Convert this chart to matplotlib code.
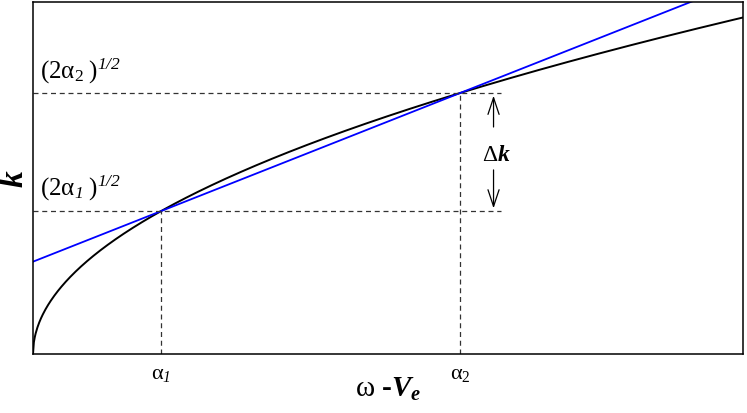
import numpy as np
import matplotlib.pyplot as plt

plt.rcParams['mathtext.fontset'] = 'custom'
plt.rcParams['mathtext.rm'] = 'Liberation Serif'
plt.rcParams['mathtext.it'] = 'Liberation Serif:italic'
plt.rcParams['mathtext.cal'] = 'Liberation Serif:italic'
plt.rcParams['mathtext.bf'] = 'Liberation Serif:bold'
plt.rcParams['mathtext.bfit'] = 'Liberation Serif:italic:bold'
plt.rcParams['font.family'] = 'Liberation Serif'

# two roots where the straight line cuts the dispersion curve
alphas = [1.0, 3.34]
tick_labels = [r'$\mathrm{\alpha}_{\mathcal{1}}$', r'$\mathrm{\alpha}_{2}$']
k_labels = [r'$(2\mathrm{\alpha}_{\mathcal{1}}\;)^{\mathcal{1/2}}$',
            r'$(2\mathrm{\alpha}_{2}\;)^{\mathcal{1/2}}$']
x_max = 5.55
y_max = 3.485

# dispersion curve k = (2 w)^(1/2) as labelled in the diagram
w = np.linspace(0, x_max, 800)
k_curve = np.sqrt(2 * w)
k_pts = [np.sqrt(2 * a) for a in alphas]
slope = (k_pts[1] - k_pts[0]) / (alphas[1] - alphas[0])
k_line = k_pts[0] + slope * (w - alphas[0])

fig = plt.figure(figsize=(7.47, 4.14), dpi=100)
ax = fig.add_axes([33 / 747, 59 / 414, 710 / 747, 352 / 414])

ax.plot(w, k_curve, color='black', lw=1.4)
ax.plot(w, k_line, color='#0000ff', lw=1.3)

dash = dict(color='#333333', lw=0.9, ls=(0, (4, 3)))
x_end = 3.66
for a, kk in zip(alphas, k_pts):
    ax.plot([0, x_end], [kk, kk], **dash)
    ax.plot([a, a], [0, kk], **dash)

# delta k arrow
x_arr = 3.60
head = '->,head_width=0.4,head_length=1.2'
ax.annotate('', xy=(x_arr, k_pts[1]), xytext=(x_arr, 2.22),
            arrowprops=dict(arrowstyle=head, lw=0.9, color='black'))
ax.annotate('', xy=(x_arr, k_pts[0]), xytext=(x_arr, 1.85),
            arrowprops=dict(arrowstyle=head, lw=0.9, color='black'))
ax.text(x_arr + 0.02, 1.98, r'$\Delta\boldsymbol{k}$', fontsize=17, ha='center', va='center')

ax.text(0.055, 2.74, k_labels[1], fontsize=18, va='baseline')
ax.text(0.055, 1.58, k_labels[0], fontsize=18, va='baseline')

ax.set_xlim(0, x_max)
ax.set_ylim(0, y_max)
ax.set_xticks(alphas)
ax.set_xticklabels(tick_labels, fontsize=16)
ax.set_yticks([])
ax.tick_params(axis='x', length=0, pad=7)
for s in ax.spines.values():
    s.set_linewidth(1.1)

ax.set_xlabel(r'$\mathrm{\omega}$ -$\mathbfit{V}_{\mathbfit{e}}$', fontsize=21,
              fontweight='bold', labelpad=-6)
ax.set_ylabel(r'$\mathbfit{k}$', fontsize=24, labelpad=2)

fig.savefig('out.png', dpi=100)
